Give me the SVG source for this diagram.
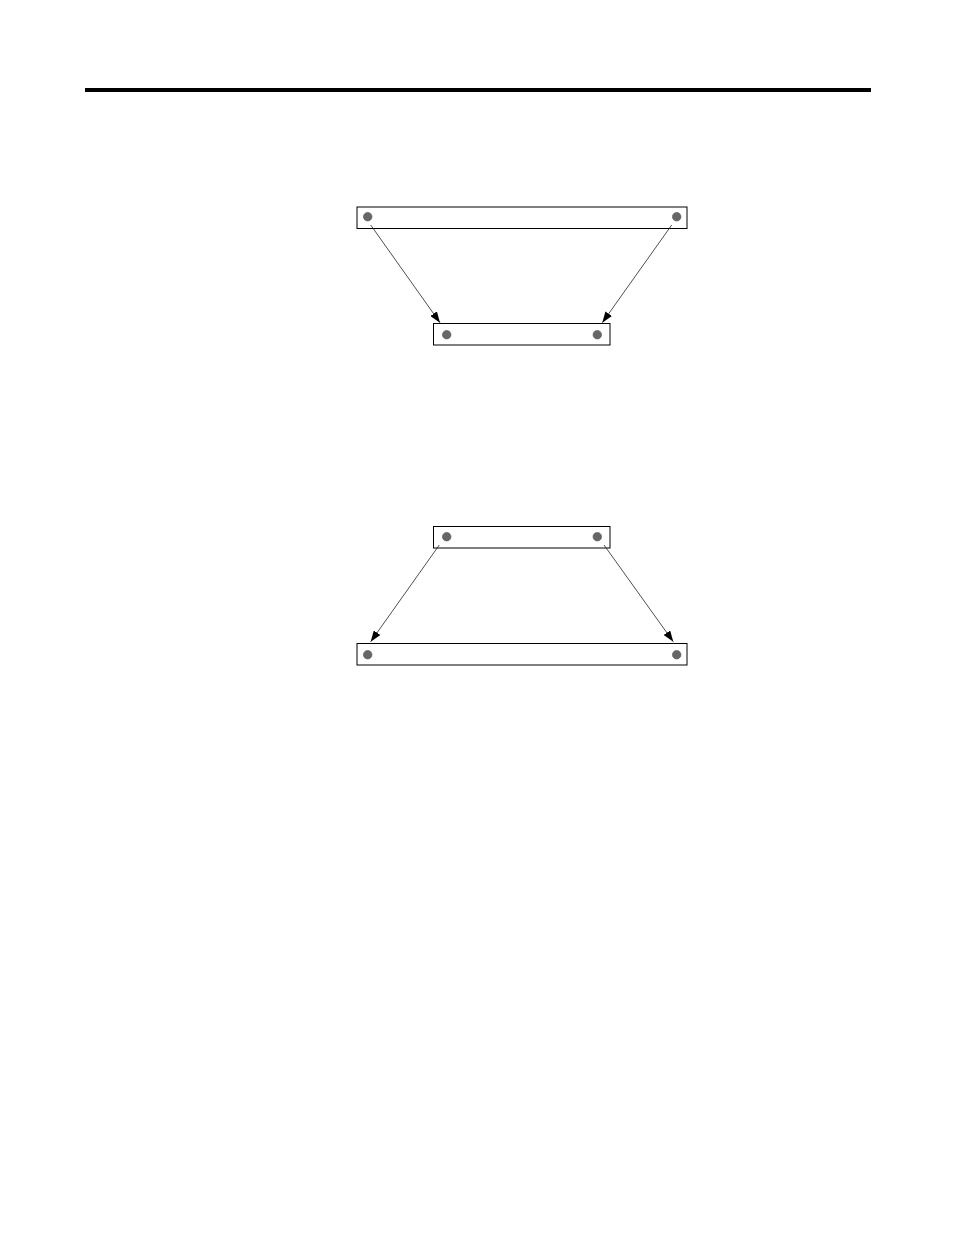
<svg xmlns="http://www.w3.org/2000/svg" width="954" height="1235" viewBox="0 0 954 1235">
<style>
.box{fill:#fff;stroke:#000;stroke-width:1}
.dot{fill:#666;stroke:#555;stroke-width:0.6}
.conn{stroke:#222;stroke-width:0.8;fill:none}
</style>
<defs>
<marker id="ah" markerUnits="userSpaceOnUse" markerWidth="12" markerHeight="8" refX="11" refY="4" orient="auto">
<path d="M0,0 L11,4 L0,8 Z" fill="#000"/>
</marker>
</defs>
<rect width="954" height="1235" fill="#fff"/>
<rect x="85" y="88" width="786" height="4" fill="#000"/>
<g id="top-wide">
<rect class="box" x="357" y="207" width="330" height="21.5"/>
<circle class="dot" cx="367.7" cy="216.7" r="4.3"/>
<circle class="dot" cx="676.7" cy="216.7" r="4.3"/>
</g>
<g id="top-narrow">
<rect class="box" x="433.5" y="323.5" width="176.5" height="21.5"/>
<circle class="dot" cx="446.7" cy="334.7" r="4.3"/>
<circle class="dot" cx="597.3" cy="334.7" r="4.3"/>
</g>
<g id="bottom-narrow">
<rect class="box" x="433.5" y="526.5" width="176.5" height="21.5"/>
<circle class="dot" cx="446.7" cy="536.7" r="4.3"/>
<circle class="dot" cx="597.3" cy="536.7" r="4.3"/>
</g>
<g id="bottom-wide">
<rect class="box" x="357" y="643.5" width="330" height="21.5"/>
<circle class="dot" cx="367.7" cy="654.7" r="4.3"/>
<circle class="dot" cx="676.7" cy="654.7" r="4.3"/>
</g>
<g id="connectors">
<line class="conn" x1="370.7" y1="225" x2="440" y2="322.7" marker-end="url(#ah)"/>
<line class="conn" x1="671.7" y1="225" x2="602.3" y2="322.7" marker-end="url(#ah)"/>
<line class="conn" x1="439.3" y1="545" x2="370.7" y2="641.7" marker-end="url(#ah)"/>
<line class="conn" x1="604" y1="545" x2="673.3" y2="641.7" marker-end="url(#ah)"/>
</g>
</svg>
